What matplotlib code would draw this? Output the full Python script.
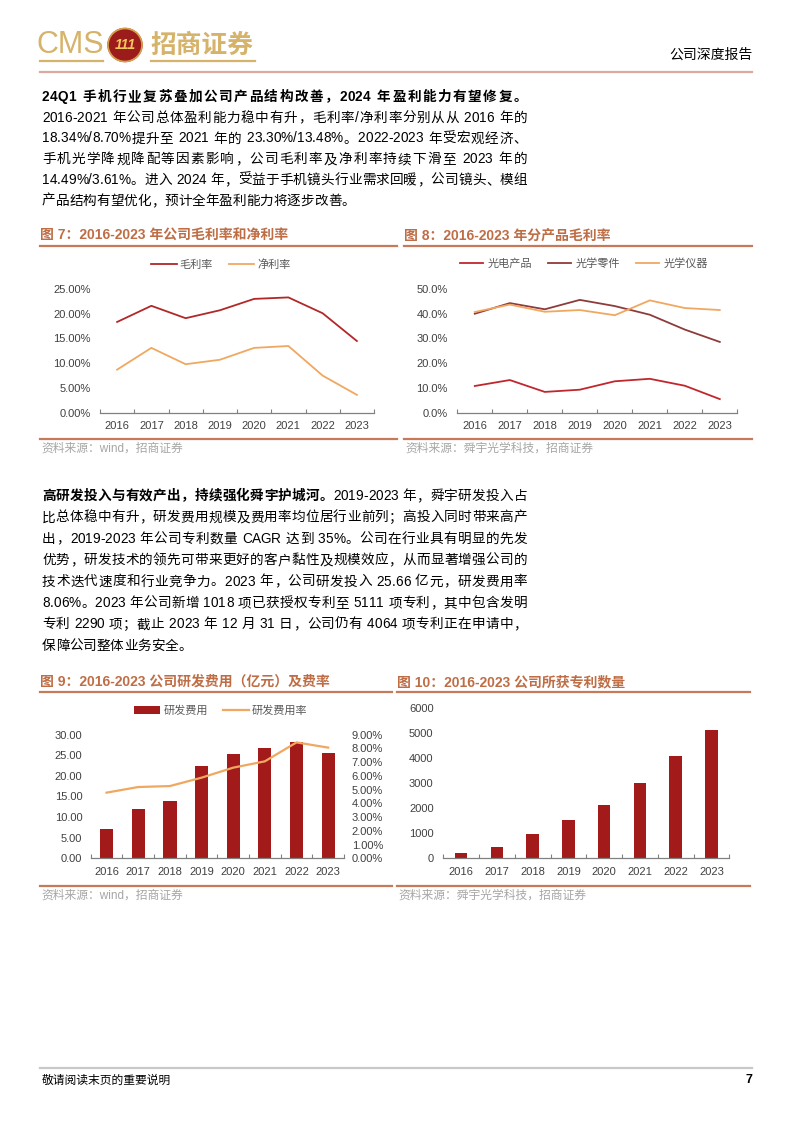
import matplotlib
matplotlib.use("Agg")
import numpy as np
import matplotlib.pyplot as plt
from matplotlib.font_manager import FontProperties, findfont, get_font
from matplotlib.lines import Line2D
from matplotlib.patches import Ellipse
from matplotlib.ticker import FuncFormatter

try:
    from matplotlib.ft2font import LoadFlags
    NOHINT = LoadFlags.NO_HINTING
except ImportError:
    from matplotlib.ft2font import LOAD_NO_HINTING as NOHINT

W, H = 794, 1123
LATIN = "Liberation Sans"
CJK = "Noto Sans CJK SC"
plt.rcParams["font.family"] = [LATIN, CJK]

# ---- data ----
years = ["2016", "2017", "2018", "2019", "2020", "2021", "2022", "2023"]

gross_margin = [18.34, 21.6, 19.1, 20.7, 23.0, 23.30, 20.1, 14.49]
net_margin = [8.70, 13.1, 9.8, 10.7, 13.1, 13.48, 7.5, 3.61]

product_names = ["光电产品", "光学零件", "光学仪器"]
optoelec_gm = [10.8, 13.2, 8.4, 9.3, 12.7, 13.7, 10.9, 5.5]
parts_gm = [40.0, 44.3, 41.8, 45.6, 43.1, 39.6, 33.6, 28.6]
instrument_gm = [40.7, 43.7, 40.8, 41.5, 39.4, 45.4, 42.3, 41.5]

rd_expense = [7.1, 11.9, 13.8, 22.4, 25.2, 26.7, 28.3, 25.66]
rd_rate = [4.78, 5.19, 5.26, 5.87, 6.60, 7.06, 8.44, 8.06]

patents = [212, 451, 969, 1540, 2111, 3000, 4093, 5111]

para1 = [
    [("24Q1 手机行业复苏叠加公司产品结构改善，2024 年盈利能力有望修复。", True)],
    [("2016-2021 年公司总体盈利能力稳中有升，毛利率/净利率分别从从 2016 年的", False)],
    [("18.34%/8.70%提升至 2021 年的 23.30%/13.48%。2022-2023 年受宏观经济、", False)],
    [("手机光学降规降配等因素影响，公司毛利率及净利率持续下滑至 2023 年的", False)],
    [("14.49%/3.61%。进入 2024 年，受益于手机镜头行业需求回暖，公司镜头、模组", False)],
    [("产品结构有望优化，预计全年盈利能力将逐步改善。", False)],
]
para2 = [
    [("高研发投入与有效产出，持续强化舜宇护城河。", True), ("2019-2023 年，舜宇研发投入占", False)],
    [("比总体稳中有升，研发费用规模及费用率均位居行业前列；高投入同时带来高产", False)],
    [("出，2019-2023 年公司专利数量 CAGR 达到 35%。公司在行业具有明显的先发", False)],
    [("优势，研发技术的领先可带来更好的客户黏性及规模效应，从而显著增强公司的", False)],
    [("技术迭代速度和行业竞争力。2023 年，公司研发投入 25.66 亿元，研发费用率", False)],
    [("8.06%。2023 年公司新增 1018 项已获授权专利至 5111 项专利，其中包含发明", False)],
    [("专利 2290 项；截止 2023 年 12 月 31 日，公司仍有 4064 项专利正在申请中，", False)],
    [("保障公司整体业务安全。", False)],
]

TITLE_C = "#BF6D45"
RULE_C = "#C8795A"
TICK_C = "#404040"
LEG_C = "#595959"
SRC_C = "#A6A6A6"
BAR_C = "#A31A1A"
ORANGE = "#F0A860"

fig = plt.figure(figsize=(W / 100, H / 100), dpi=100)


def fx(x):
    return x / W


def fy(y):
    return 1 - y / H


def add_ax(l, t, r, b):
    return fig.add_axes([l / W, 1 - b / H, (r - l) / W, (b - t) / H])


def hline(x0, x1, y, color, lw=1.4):
    fig.add_artist(Line2D([fx(x0), fx(x1)], [fy(y), fy(y)], color=color, lw=lw))


# ---- justified body text, glyph by glyph ----
_adv = {}


def glyph_advance(c, bold, size):
    fam = CJK if ord(c) > 0x2E7F else LATIN
    key = (c, fam, bold, size)
    if key not in _adv:
        prop = FontProperties(family=fam, weight="bold" if bold else "normal", size=size)
        font = get_font(findfont(prop))
        font.set_size(size, 100)
        g = font.load_char(ord(c), flags=NOHINT)
        _adv[key] = g.linearHoriAdvance / 65536
    return fam, _adv[key]


def draw_line(x0, yc, segs, size, width=None):
    glyphs = []
    for text, bold in segs:
        for c in text:
            fam, a = glyph_advance(c, bold, size)
            glyphs.append((c, fam, bold, a))
    total = sum(g[3] for g in glyphs)
    slots = []
    for i in range(len(glyphs) - 1):
        a, b = glyphs[i], glyphs[i + 1]
        inside_word = a[1] == LATIN and b[1] == LATIN and a[0] != " " and b[0] != " "
        slots.append(0 if inside_word else 1)
    gap = 0
    if width is not None and sum(slots) > 0:
        gap = max(0, (width - total) / sum(slots))
    em = size * 100 / 72
    base = yc + 0.36 * em
    pen = x0
    for i, (c, fam, bold, a) in enumerate(glyphs):
        if c != " ":
            fig.text(fx(pen), fy(base), c, family=fam, fontsize=size,
                     weight="bold" if bold else "normal", color="black",
                     ha="left", va="baseline")
        pen += a
        if i < len(slots):
            pen += gap * slots[i]


def draw_para(lines, x0, x1, y0, step, size=9.8):
    for i, segs in enumerate(lines):
        last = i == len(lines) - 1
        draw_line(x0, y0 + i * step, segs, size, None if last else x1 - x0)


# ---- header ----
fig.text(fx(36), fy(45), "CMS", fontsize=22, color="#D6B36A", family=LATIN,
         ha="left", va="center")
fig.add_artist(Ellipse((fx(125), fy(45)), 34 / W, 33 / H, color="#9C1C1C"))
fig.add_artist(Ellipse((fx(125), fy(45)), 34 / W, 33 / H, fill=False,
                       edgecolor="#D6A14A", lw=1.2))
fig.text(fx(125), fy(45), "111", fontsize=10, color="#F2C75C", weight="bold",
         style="italic", family=LATIN, ha="center", va="center")
fig.text(fx(150), fy(45), "招商证券", fontsize=18.5, color="#D6B36A", family=CJK,
         weight="bold", ha="left", va="center")
hline(40, 103, 61, "#D6B36A", 1.6)
hline(151, 255, 61, "#D6B36A", 1.6)
fig.text(fx(753), fy(55), "公司深度报告", fontsize=10, color="black", family=CJK,
         ha="right", va="center")
hline(40, 752, 72, "#DCA99E", 1.6)

# ---- body text ----
draw_para(para1, 42, 527, 96, 20.8)
draw_para(para2, 42, 527, 495, 21.4)

# ---- chart frames ----
def frame(x0, x1, ytitle, ybottom, title, source):
    fig.text(fx(x0), fy(ytitle), title, fontsize=10, weight="bold", color=TITLE_C,
             ha="left", va="center")
    hline(x0, x1, ytitle + 10, RULE_C, 1.6)
    hline(x0, x1, ybottom, RULE_C, 1.6)
    fig.text(fx(x0 + 1), fy(ybottom + 10), source, fontsize=8.5, color=SRC_C,
             ha="left", va="center")


frame(40, 397, 236, 439, "图 7：2016-2023 年公司毛利率和净利率", "资料来源：wind，招商证券")
frame(404, 752, 236, 439, "图 8：2016-2023 年分产品毛利率", "资料来源：舜宇光学科技，招商证券")
frame(40, 392, 682, 886, "图 9：2016-2023 公司研发费用（亿元）及费率", "资料来源：wind，招商证券")
frame(397, 750, 682, 886, "图 10：2016-2023 公司所获专利数量", "资料来源：舜宇光学科技，招商证券")


def base_axis(ax, ymax, ystep, fmt, pad):
    x = np.arange(len(years))
    ax.set_xlim(-0.5, len(years) - 0.5)
    ax.set_ylim(0, ymax)
    ax.set_yticks(np.arange(0, ymax + ystep / 2, ystep))
    ax.yaxis.set_major_formatter(FuncFormatter(lambda v, p: fmt.format(v)))
    for s in ("top", "right", "left"):
        ax.spines[s].set_visible(False)
    ax.spines["bottom"].set_color("#808080")
    ax.spines["bottom"].set_linewidth(0.9)
    ax.set_xticks(x)
    ax.set_xticklabels(years)
    ax.set_xticks(np.arange(-0.5, len(years), 1), minor=True)
    ax.tick_params(axis="x", which="major", length=0, pad=6, labelsize=8, labelcolor=TICK_C)
    ax.tick_params(axis="x", which="minor", length=3, width=0.8, direction="in", color="#808080")
    ax.tick_params(axis="y", length=0, pad=pad, labelsize=8, labelcolor=TICK_C)
    ax.patch.set_alpha(0)
    return x


# 图7
ax1 = add_ax(100, 289, 374, 412.7)
x = base_axis(ax1, 25, 5, "{:.2f}%", 6.5)
ax1.plot(x, gross_margin, color="#B22828", lw=1.3, label="毛利率")
ax1.plot(x, net_margin, color=ORANGE, lw=1.3, label="净利率")
fig.legend(*ax1.get_legend_handles_labels(), loc="center",
           bbox_to_anchor=(fx(221), fy(265)), ncol=2, frameon=False, fontsize=8,
           handlelength=2.3, handletextpad=0.3, columnspacing=1.4, labelcolor=LEG_C)

# 图8
ax2 = add_ax(457.3, 289, 737.3, 412.7)
x = base_axis(ax2, 50, 10, "{:.1f}%", 7)
for vals, name, col in zip([optoelec_gm, parts_gm, instrument_gm], product_names,
                           ["#C0272D", "#8E3B3B", ORANGE]):
    ax2.plot(x, vals, color=col, lw=1.3, label=name)
fig.legend(*ax2.get_legend_handles_labels(), loc="center",
           bbox_to_anchor=(fx(584), fy(264)), ncol=3, frameon=False, fontsize=8,
           handlelength=2.1, handletextpad=0.4, columnspacing=1.4, labelcolor=LEG_C)

# 图9
ax3 = add_ax(90.7, 734.7, 344, 858.3)
x = base_axis(ax3, 30, 5, "{:.2f}", 6)
ax3.bar(x, rd_expense, width=0.42, color=BAR_C, label="研发费用")
ax3b = ax3.twinx()
ax3b.set_ylim(0, 9)
ax3b.set_yticks(np.arange(0, 9.5, 1))
ax3b.yaxis.set_major_formatter(FuncFormatter(lambda v, p: "{:.2f}%".format(v)))
for s in ("top", "right", "left", "bottom"):
    ax3b.spines[s].set_visible(False)
ax3b.tick_params(axis="y", length=0, pad=5.5, labelsize=8, labelcolor=TICK_C)
ax3b.plot(x, rd_rate, color=ORANGE, lw=1.6, label="研发费用率")
h1, l1 = ax3.get_legend_handles_labels()
h2, l2 = ax3b.get_legend_handles_labels()
fig.legend(h1 + h2, l1 + l2, loc="center", bbox_to_anchor=(fx(221), fy(711)), ncol=2,
           frameon=False, fontsize=8, handlelength=2.3, handletextpad=0.3,
           columnspacing=1.4, labelcolor=LEG_C)

# 图10
ax4 = add_ax(443.3, 707.7, 729.3, 858.3)
x = base_axis(ax4, 6000, 1000, "{:.0f}", 7)
ax4.bar(x, patents, width=0.35, color=BAR_C)

# ---- footer ----
hline(40, 752, 1068, "#C8C8C8", 1.6)
fig.text(fx(42), fy(1080), "敬请阅读末页的重要说明", fontsize=8.5, color="black",
         family=CJK, ha="left", va="center")
fig.text(fx(752), fy(1080), "7", fontsize=9, weight="bold", color="black",
         ha="right", va="center")

fig.savefig("out.png", dpi=100)
